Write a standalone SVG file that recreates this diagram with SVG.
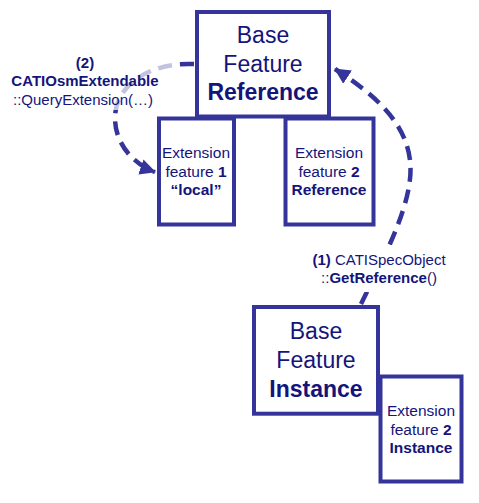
<svg xmlns="http://www.w3.org/2000/svg" width="479" height="503" viewBox="0 0 479 503">
<style>
.box{fill:#fff;stroke:#34349a;stroke-width:4}
.big{font-family:"Liberation Sans",Arial,sans-serif;font-size:23px;fill:#14147a;text-anchor:middle}
.sm{font-family:"Liberation Sans",Arial,sans-serif;font-size:15.5px;fill:#14147a;text-anchor:middle}
.lb{font-family:"Liberation Sans",Arial,sans-serif;font-size:15px;fill:#14147a;text-anchor:middle}
.b{font-weight:bold}
.con{fill:none;stroke:#34349a;stroke-width:4.5;stroke-dasharray:14 8}
</style>
<defs>
<marker id="ah" markerUnits="userSpaceOnUse" markerWidth="18" markerHeight="18" viewBox="0 0 18 18" refX="15" refY="9" orient="auto">
<path d="M0,1 L16,9 L0,17 z" fill="#34349a"/>
</marker>
</defs>
<rect width="479" height="503" fill="#fff"/>
<g id="base-ref">
<rect class="box" x="197" y="12" width="132" height="104.5"/>
<text class="big" x="263" y="43">Base</text>
<text class="big" x="263" y="72">Feature</text>
<text class="big b" x="263" y="100">Reference</text>
</g>
<g id="ext1">
<rect class="box" x="159" y="118.5" width="75" height="106"/>
<text class="sm" x="196" y="158">Extension</text>
<text class="sm" x="196" y="177">feature <tspan class="b">1</tspan></text>
<text class="sm b" x="196" y="195">“local”</text>
</g>
<g id="ext2">
<rect class="box" x="285.5" y="118.5" width="88" height="106"/>
<text class="sm" x="329" y="158">Extension</text>
<text class="sm" x="329" y="177">feature <tspan class="b">2</tspan></text>
<text class="sm b" x="329" y="195">Reference</text>
</g>
<g id="base-inst">
<rect class="box" x="254" y="307" width="124" height="106.7"/>
<text class="big" x="316" y="339">Base</text>
<text class="big" x="316" y="368">Feature</text>
<text class="big b" x="316" y="397">Instance</text>
</g>
<g id="ext2-inst">
<rect class="box" x="380.5" y="376.5" width="81" height="105"/>
<text class="sm" x="421" y="416">Extension</text>
<text class="sm" x="421" y="435">feature <tspan class="b">2</tspan></text>
<text class="sm b" x="421" y="453">Instance</text>
</g>
<g id="connectors">
<path class="con" d="M361 304 C385 255,415 200,410 160 C405 120,372 93,335 69" marker-end="url(#ah)"/>
<path class="con" d="M194 64 C150 62,115 85,115 118 C115 145,135 165,155 172" marker-end="url(#ah)"/>
</g>
<g id="label1">
<rect x="305" y="245" width="150" height="47" fill="#fff"/>
<text class="lb" x="379" y="265"><tspan class="b">(1)</tspan> CATISpecObject</text>
<text class="lb" x="379" y="283">::<tspan class="b">GetReference</tspan>()</text>
</g>
<g id="label2">
<rect x="3" y="55" width="173" height="55" fill="#fff" fill-opacity="0.7"/>
<text class="lb b" x="85" y="68">(2)</text>
<text class="lb b" x="85" y="86" font-size="14.5">CATIOsmExtendable</text>
<text class="lb" x="83" y="105">::QueryExtension(…)</text>
</g>
</svg>
